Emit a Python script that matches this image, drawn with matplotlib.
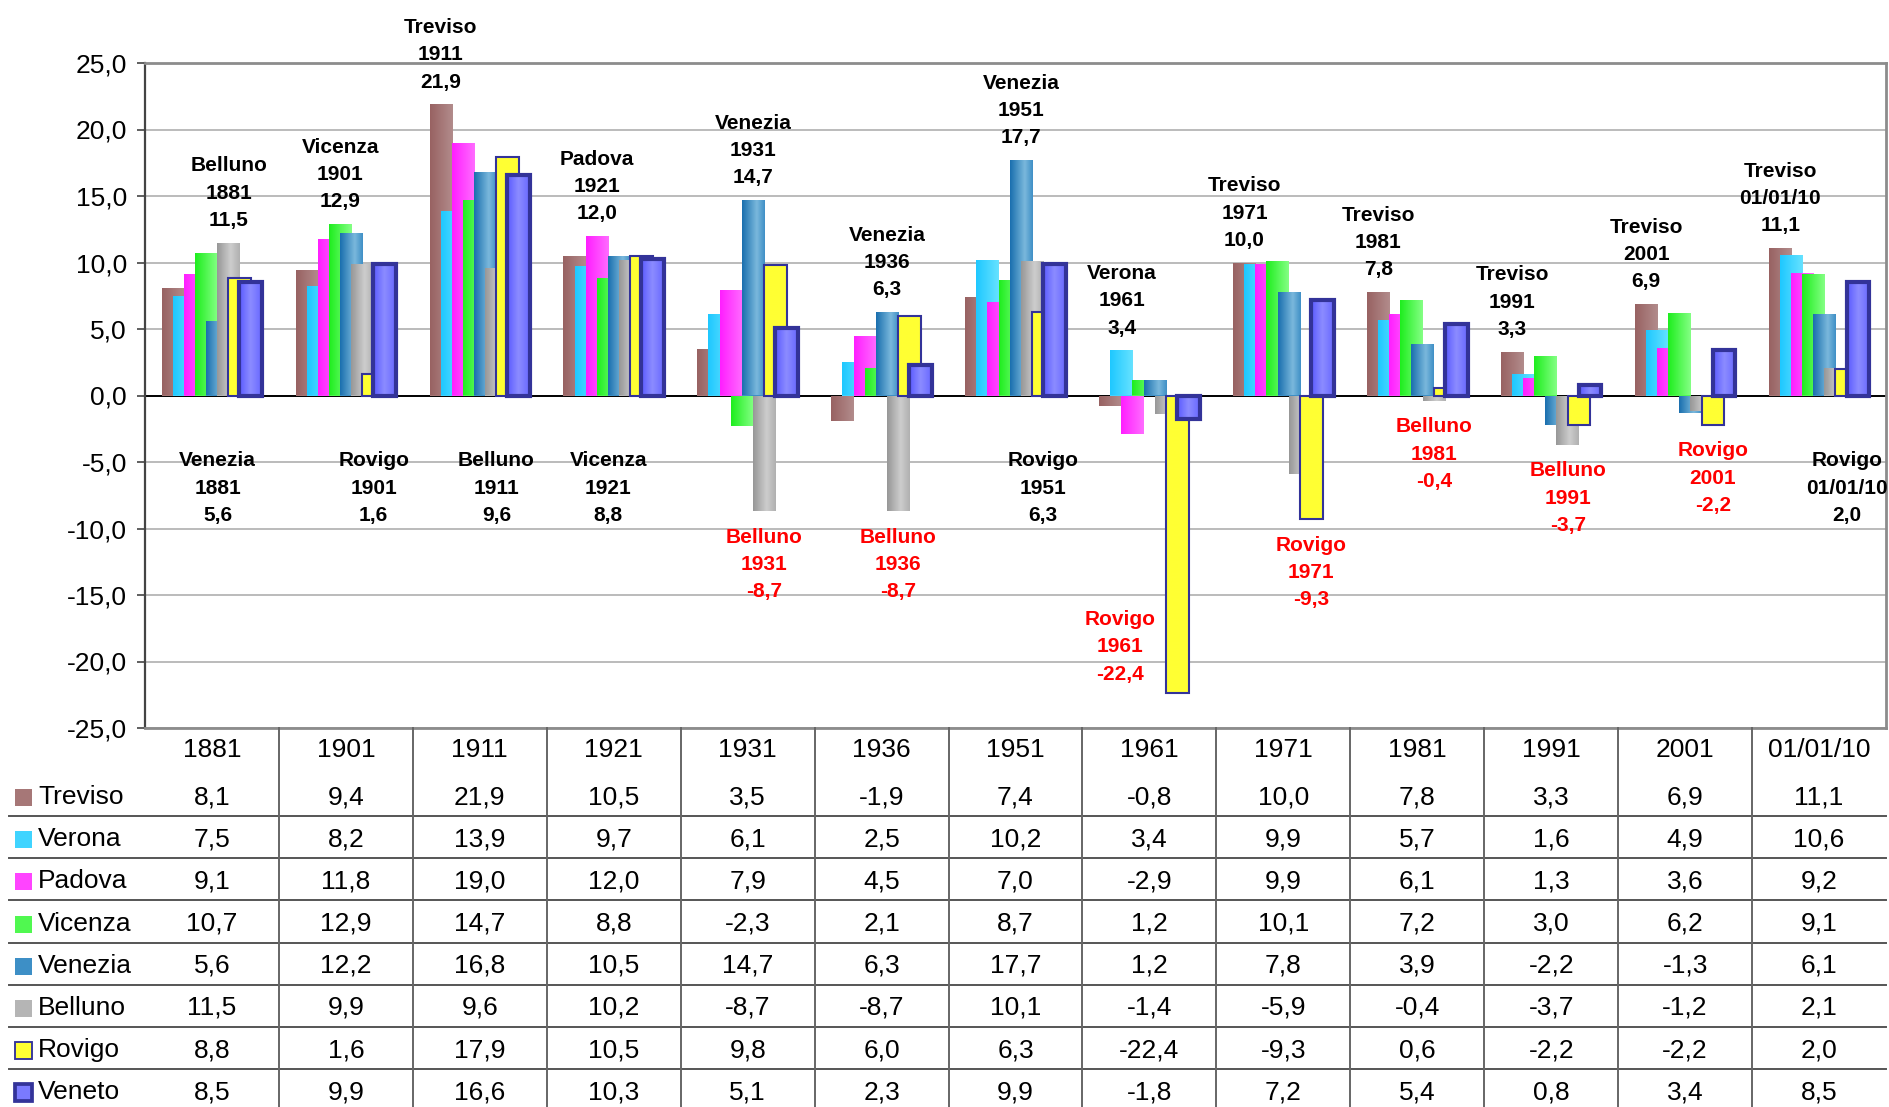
import numpy as np
import matplotlib
matplotlib.use('Agg')
import matplotlib.pyplot as plt
from matplotlib.colors import LinearSegmentedColormap
from matplotlib.patches import Rectangle
from matplotlib.lines import Line2D
from matplotlib.transforms import blended_transform_factory

plt.rcParams['font.family'] = ['Liberation Sans', 'DejaVu Sans']

years = ['1881', '1901', '1911', '1921', '1931', '1936', '1951',
         '1961', '1971', '1981', '1991', '2001', '01/01/10']
names = ['Treviso', 'Verona', 'Padova', 'Vicenza', 'Venezia', 'Belluno', 'Rovigo', 'Veneto']

treviso = [8.1, 9.4, 21.9, 10.5, 3.5, -1.9, 7.4, -0.8, 10.0, 7.8, 3.3, 6.9, 11.1]
verona = [7.5, 8.2, 13.9, 9.7, 6.1, 2.5, 10.2, 3.4, 9.9, 5.7, 1.6, 4.9, 10.6]
padova = [9.1, 11.8, 19.0, 12.0, 7.9, 4.5, 7.0, -2.9, 9.9, 6.1, 1.3, 3.6, 9.2]
vicenza = [10.7, 12.9, 14.7, 8.8, -2.3, 2.1, 8.7, 1.2, 10.1, 7.2, 3.0, 6.2, 9.1]
venezia = [5.6, 12.2, 16.8, 10.5, 14.7, 6.3, 17.7, 1.2, 7.8, 3.9, -2.2, -1.3, 6.1]
belluno = [11.5, 9.9, 9.6, 10.2, -8.7, -8.7, 10.1, -1.4, -5.9, -0.4, -3.7, -1.2, 2.1]
rovigo = [8.8, 1.6, 17.9, 10.5, 9.8, 6.0, 6.3, -22.4, -9.3, 0.6, -2.2, -2.2, 2.0]
veneto = [8.5, 9.9, 16.6, 10.3, 5.1, 2.3, 9.9, -1.8, 7.2, 5.4, 0.8, 3.4, 8.5]
values = [treviso, verona, padova, vicenza, venezia, belluno, rovigo, veneto]

# province named in the label above / below each group
max_prov = ['Belluno', 'Vicenza', 'Treviso', 'Padova', 'Venezia', 'Venezia', 'Venezia',
            'Verona', 'Treviso', 'Treviso', 'Treviso', 'Treviso', 'Treviso']
min_prov = ['Venezia', 'Rovigo', 'Belluno', 'Vicenza', 'Belluno', 'Belluno', 'Rovigo',
            'Rovigo', 'Rovigo', 'Belluno', 'Belluno', 'Rovigo', 'Rovigo']

# horizontal gradients, left -> right
grads = [
    [(0, '#986262'), (1, '#b28c8c')],
    [(0, '#1ec8ff'), (1, '#66e2ff')],
    [(0, '#ff1eff'), (1, '#ff6cff')],
    [(0, '#1eee1e'), (1, '#84ff84')],
    [(0, '#1a6fae'), (0.65, '#7ab8dc'), (1, '#4090c6')],
    [(0, '#979797'), (0.6, '#cdcdcd'), (1, '#b0b0b0')],
    [(0, '#ffff33'), (1, '#ffff33')],
    [(0, '#5a5aff'), (0.5, '#8c8cff'), (1, '#6868ff')],
]
solid = ['#a67777', '#40d4ff', '#ff44ff', '#50f850', '#3d8fc6', '#b5b5b5', '#ffff33', '#7a7aff']
edge_w = [0, 0, 0, 0, 0, 0, 1.5, 3.0]
navy = '#333399'


def fmt(v):
    return f"{v:.1f}".replace('.', ',')


W, H = 1890, 1107
fig = plt.figure(figsize=(W / 100, H / 100), dpi=100)
ax = fig.add_axes([145 / W, 1 - 728 / H, (1886 - 145) / W, (728 - 63) / H])

x = np.arange(len(years))
step = 0.083
bw = 0.17
grad_img = np.linspace(0, 1, 64).reshape(1, -1)

for k, vals in enumerate(values):
    pos = x + (k - 3.5) * step
    z = 3 + k
    bars = ax.bar(pos, vals, bw, color=solid[k], linewidth=0, zorder=z)
    cmap = LinearSegmentedColormap.from_list(names[k], grads[k])
    for b in bars:
        x0, w = b.get_x(), b.get_width()
        y0, y1 = sorted([b.get_y(), b.get_y() + b.get_height()])
        im = ax.imshow(grad_img, cmap=cmap, extent=[x0, x0 + w, y0, y1], aspect='auto',
                       interpolation='bilinear', zorder=z + 0.1)
        im.set_clip_path(b)
    if edge_w[k]:
        ax.bar(pos, vals, bw, facecolor='none', edgecolor=navy, linewidth=edge_w[k], zorder=z + 0.2)

ax.set_xlim(-0.5, len(years) - 0.5)
ax.set_ylim(-25, 25)
ax.set_xticks([])
yt = np.arange(-25, 26, 5)
ax.set_yticks(yt)
ax.set_yticklabels([fmt(v) for v in yt], fontsize=19)
ax.tick_params(axis='y', direction='out', length=6, width=1.2, color='#444444', pad=7)
ax.yaxis.grid(True, color='#a8a8a8', linewidth=1.1)
ax.set_axisbelow(True)
ax.axhline(0, color='black', linewidth=1.4, zorder=2.5)
for s in ['top', 'right', 'bottom']:
    ax.spines[s].set_color('#8c8c8c')
    ax.spines[s].set_linewidth(2)
ax.spines['left'].set_color('#444444')
ax.spines['left'].set_linewidth(1.6)

# labels on the highest and lowest province of each group
for i in range(len(years)):
    k = names.index(max_prov[i])
    v = values[k][i]
    ax.annotate(f"{max_prov[i]}\n{years[i]}\n{fmt(v)}", (x[i] + (k - 3.5) * step, v),
                xytext=(0, 12), textcoords='offset points', ha='center', va='baseline',
                fontsize=15, fontweight='bold', linespacing=1.55, zorder=20,
                annotation_clip=False)

    k = names.index(min_prov[i])
    v = values[k][i]
    xp = x[i] + (k - 3.5) * step
    txt = f"{min_prov[i]}\n{years[i]}\n{fmt(v)}"
    kw = dict(ha='center', fontsize=15, fontweight='bold', linespacing=1.55,
              zorder=20, annotation_clip=False, textcoords='offset points')
    if v >= 0:
        ax.annotate(txt, (xp, -4.2), xytext=(0, 0), va='top', color='black', **kw)
    elif v > -15:
        ax.annotate(txt, (xp, v), xytext=(0, -12), va='top', color='red', **kw)
    else:
        ax.annotate(txt, (xp, v + 3.5), xytext=(-41, 0), va='center', color='red', **kw)

# data table under the chart
tr = blended_transform_factory(ax.transData, fig.transFigure)
for i, yr in enumerate(years):
    fig.text(x[i], 1 - 750 / H, yr, transform=tr, ha='center', va='center', fontsize=19)
row_y = [797 + 42.2 * r for r in range(len(names))]
for r, name in enumerate(names):
    yy = 1 - row_y[r] / H
    fig.text(38 / W, yy, name, ha='left', va='center', fontsize=19)
    for i in range(len(years)):
        fig.text(x[i], yy, fmt(values[r][i]), transform=tr, ha='center', va='center', fontsize=19)
    sq = Rectangle((15 / W, 1 - (row_y[r] + 9) / H), 17 / W, 17 / H, transform=fig.transFigure,
                   facecolor=solid[r], edgecolor=navy if edge_w[r] else 'none',
                   linewidth=edge_w[r] * 0.9)
    fig.add_artist(sq)
for r in range(len(names) - 1):
    yy = 1 - (816 + 42.2 * r) / H
    fig.add_artist(Line2D([9 / W, 1886 / W], [yy, yy], transform=fig.transFigure,
                          color='#555555', linewidth=1.4))
for i in range(len(years) - 1):
    fig.add_artist(Line2D([x[i] + 0.5, x[i] + 0.5], [1 - 728 / H, 0], transform=tr,
                          color='#666666', linewidth=1.4))

fig.savefig('out.png', dpi=100)
